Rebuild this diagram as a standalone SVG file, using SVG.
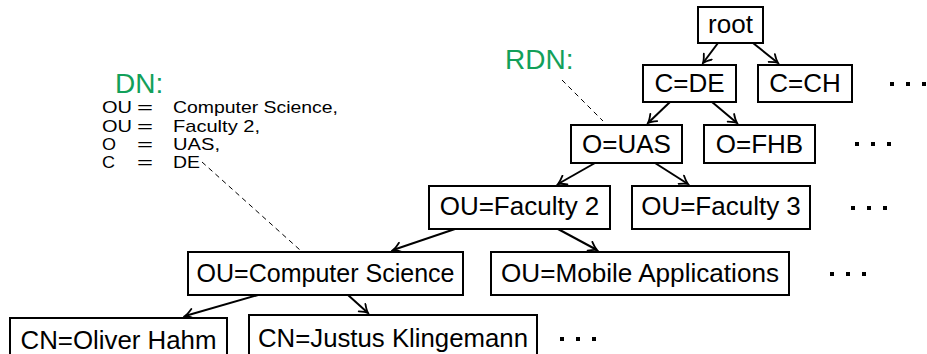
<svg xmlns="http://www.w3.org/2000/svg" width="927" height="354" viewBox="0 0 927 354">
<defs>
<style>
.box{fill:#fff;stroke:#000;stroke-width:2}
.t{font-family:"Liberation Sans",Arial,sans-serif;font-size:26px;fill:#000;text-anchor:middle}
.dn{font-family:"Liberation Sans",Arial,sans-serif;font-size:17px;fill:#000}
.g{font-family:"Liberation Sans",Arial,sans-serif;font-size:28px;fill:#12a05a}
.e{stroke:#000;stroke-width:2;fill:none;marker-end:url(#ah)}
.d{stroke:#000;stroke-width:1;fill:none;stroke-dasharray:5 4}
.dot{fill:#000}
</style>
<marker id="ah" markerWidth="12" markerHeight="12" viewBox="-9 -6 10 12" refX="0" refY="0" orient="auto" markerUnits="userSpaceOnUse">
<path d="M-8,-5 Q-3,-1 0,0 Q-3,1 -8,5" fill="none" stroke="#000" stroke-width="1.8" stroke-linecap="round"/>
</marker>
</defs>
<rect width="927" height="354" fill="#fff"/>

<g id="connectors">
<line class="e" x1="718" y1="43" x2="703" y2="63"/>
<line class="e" x1="753" y1="43" x2="778" y2="63"/>
<line class="e" x1="670" y1="102" x2="648" y2="123"/>
<line class="e" x1="712" y1="102" x2="737" y2="123"/>
<line class="e" x1="595" y1="163" x2="558" y2="184"/>
<line class="e" x1="655" y1="163" x2="688" y2="184"/>
<line class="e" x1="455" y1="229" x2="393" y2="250"/>
<line class="e" x1="558" y1="229" x2="597" y2="250"/>
<line class="e" x1="258" y1="295" x2="185" y2="316"/>
<line class="e" x1="348" y1="295" x2="368" y2="313"/>
<line class="d" x1="202" y1="162" x2="300" y2="250"/>
<line class="d" x1="562" y1="80" x2="603" y2="121"/>
</g>

<g id="dn-label">
<text class="g" x="115" y="93">DN:</text>
<text class="dn" x="102" y="113" textLength="30" lengthAdjust="spacingAndGlyphs">OU</text><text class="dn" x="137" y="113" textLength="16" lengthAdjust="spacingAndGlyphs">=</text><text class="dn" x="173" y="113" textLength="165" lengthAdjust="spacingAndGlyphs">Computer Science,</text>
<text class="dn" x="102" y="132" textLength="30" lengthAdjust="spacingAndGlyphs">OU</text><text class="dn" x="137" y="132" textLength="16" lengthAdjust="spacingAndGlyphs">=</text><text class="dn" x="173" y="132" textLength="87" lengthAdjust="spacingAndGlyphs">Faculty 2,</text>
<text class="dn" x="102" y="150" textLength="14" lengthAdjust="spacingAndGlyphs">O</text><text class="dn" x="137" y="150" textLength="16" lengthAdjust="spacingAndGlyphs">=</text><text class="dn" x="173" y="150" textLength="47" lengthAdjust="spacingAndGlyphs">UAS,</text>
<text class="dn" x="102" y="168" textLength="13" lengthAdjust="spacingAndGlyphs">C</text><text class="dn" x="137" y="168" textLength="16" lengthAdjust="spacingAndGlyphs">=</text><text class="dn" x="173" y="168" textLength="27" lengthAdjust="spacingAndGlyphs">DE</text>
</g>
<g id="rdn-label"><text class="g" x="505" y="69">RDN:</text></g>

<g id="n-root"><rect class="box" x="698" y="7" width="65" height="36"/><text class="t" x="730.5" y="33">root</text></g>
<g id="n-cde"><rect class="box" x="643" y="65" width="93" height="37"/><text class="t" x="689.5" y="92">C=DE</text></g>
<g id="n-cch"><rect class="box" x="758" y="65" width="94" height="37"/><text class="t" x="805" y="92">C=CH</text></g>
<g id="n-uas"><rect class="box" x="571" y="125" width="111" height="38"/><text class="t" x="626.5" y="153">O=UAS</text></g>
<g id="n-fhb"><rect class="box" x="704" y="125" width="111" height="38"/><text class="t" x="759.5" y="153">O=FHB</text></g>
<g id="n-fac2"><rect class="box" x="429" y="186" width="181" height="43"/><text class="t" x="519.5" y="215">OU=Faculty 2</text></g>
<g id="n-fac3"><rect class="box" x="632" y="186" width="178" height="43"/><text class="t" x="721" y="215">OU=Faculty 3</text></g>
<g id="n-cs"><rect class="box" x="188" y="252" width="275" height="43"/><text class="t" x="325.5" y="282" textLength="258" lengthAdjust="spacingAndGlyphs">OU=Computer Science</text></g>
<g id="n-ma"><rect class="box" x="491" y="252" width="298" height="43"/><text class="t" x="640" y="282" textLength="278" lengthAdjust="spacingAndGlyphs">OU=Mobile Applications</text></g>
<g id="n-oh"><rect class="box" x="10" y="318" width="217" height="40"/><text class="t" x="118.5" y="349" textLength="196" lengthAdjust="spacingAndGlyphs">CN=Oliver Hahm</text></g>
<g id="n-jk"><rect class="box" x="249" y="315" width="288" height="45"/><text class="t" x="393" y="347" textLength="270" lengthAdjust="spacingAndGlyphs">CN=Justus Klingemann</text></g>

<g id="ellipses">
<rect class="dot" x="890" y="82" width="4" height="4"/><rect class="dot" x="906" y="82" width="4" height="4"/><rect class="dot" x="922" y="82" width="4" height="4"/>
<rect class="dot" x="855" y="142" width="4" height="4"/><rect class="dot" x="871" y="142" width="4" height="4"/><rect class="dot" x="887" y="142" width="4" height="4"/>
<rect class="dot" x="851" y="206" width="4" height="4"/><rect class="dot" x="867" y="206" width="4" height="4"/><rect class="dot" x="883" y="206" width="4" height="4"/>
<rect class="dot" x="830" y="272" width="4" height="4"/><rect class="dot" x="846" y="272" width="4" height="4"/><rect class="dot" x="862" y="272" width="4" height="4"/>
<rect class="dot" x="560" y="337" width="4" height="4"/><rect class="dot" x="576" y="337" width="4" height="4"/><rect class="dot" x="592" y="337" width="4" height="4"/>
</g>
</svg>
